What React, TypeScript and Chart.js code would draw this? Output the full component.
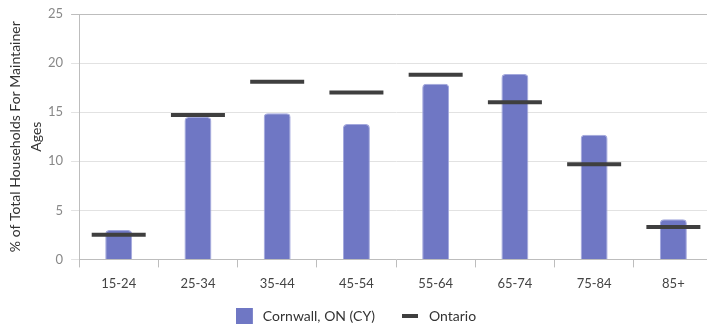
import React, { useEffect, useRef } from "react";
import { Chart, registerables } from "chart.js";

Chart.register(...registerables);

// Age groups of the household maintainer
const ageGroups = ["15-24", "25-34", "35-44", "45-54", "55-64", "65-74", "75-84", "85+"];
// Share of total households (%) — Cornwall, ON (CY)
const cornwallValues = [3.0, 14.5, 14.9, 13.8, 17.9, 18.9, 12.7, 4.1];
// Share of total households (%) — Ontario
const ontarioValues = [2.5, 14.7, 18.1, 17.0, 18.8, 16.0, 9.7, 3.3];
// Y axis
const yTicks = [0, 5, 10, 15, 20, 25];
const yTitle = ["% of Total Households For Maintainer", "Ages"];

const BAR_FILL = "#6f77c4";
const BAR_EDGE = "#a3a8dd";
const ONTARIO = "#3f3f3f";
const FONT = "Lato, 'Open Sans', sans-serif";

// Legend swatch drawn at the left of a fixed-width box
function legendSwatch(boxW: number, w: number, h: number, color: string): HTMLCanvasElement {
  const c = document.createElement("canvas");
  c.width = boxW;
  c.height = h;
  const g = c.getContext("2d")!;
  g.fillStyle = color;
  g.fillRect(0, 0, w, h);
  return c;
}

// Move the legend up closer to the axis labels and a touch left
const legendShift = {
  id: "legendShift",
  afterLayout(chart: any) {
    const lg = chart.legend;
    if (lg) {
      lg.left -= 3;
      lg.right -= 3;
      lg.top -= 19;
      lg.bottom -= 19;
    }
  },
};

export default function App() {
  const canvasRef = useRef<HTMLCanvasElement | null>(null);

  useEffect(() => {
    if (!canvasRef.current) return;
    const square = legendSwatch(20, 17, 16, BAR_FILL);
    const dash = legendSwatch(20, 16, 4, ONTARIO);

    const chart = new Chart(canvasRef.current, {
      type: "bar",
      data: {
        labels: ageGroups,
        datasets: [
          {
            type: "bar",
            label: "Cornwall, ON (CY)",
            data: cornwallValues,
            backgroundColor: BAR_FILL,
            borderColor: BAR_EDGE,
            borderWidth: 1,
            borderRadius: 4,
            barPercentage: 0.34,
            categoryPercentage: 1,
            order: 1,
          },
          {
            type: "line",
            label: "Ontario",
            data: ontarioValues,
            showLine: false,
            pointStyle: "line",
            pointRadius: 27,
            pointHoverRadius: 27,
            pointBorderWidth: 4,
            pointBorderColor: ONTARIO,
            pointBackgroundColor: ONTARIO,
            borderColor: ONTARIO,
            order: 0,
          },
        ],
      },
      plugins: [legendShift],
      options: {
        responsive: false,
        animation: false,
        layout: { autoPadding: false, padding: { top: 14, right: 3, left: 5, bottom: 0 } },
        plugins: {
          tooltip: { enabled: false },
          legend: {
            position: "bottom",
            labels: {
              usePointStyle: true,
              pointStyleWidth: 20,
              padding: 27,
              color: "#333",
              font: { family: FONT, size: 14 },
              sort: (a: any, b: any) => a.datasetIndex - b.datasetIndex,
              generateLabels: (ch: any) => {
                const items = Chart.defaults.plugins.legend.labels.generateLabels(ch);
                return items.map((it: any) => ({
                  ...it,
                  pointStyle: it.datasetIndex === 0 ? square : dash,
                }));
              },
            },
          },
        },
        scales: {
          x: {
            grid: {
              display: true,
              drawOnChartArea: false,
              tickLength: 8,
              color: "#bdbdbd",
            },
            border: { color: "#bdbdbd" },
            ticks: {
              color: "#444",
              font: { family: FONT, size: 13 },
              padding: 9,
            },
          },
          y: {
            min: 0,
            max: 25,
            afterBuildTicks: (axis: any) => {
              axis.ticks = yTicks.map((v) => ({ value: v }));
            },
            afterFit: (scale: any) => {
              scale.width -= 8;
              scale.paddingTop = 0;
            },
            grid: {
              tickLength: 8,
              color: (ctx: any) => (ctx.tick && ctx.tick.value === 25 ? "#bdbdbd" : "#e2e2e2"),
            },
            border: { color: "#bdbdbd" },
            ticks: {
              color: "#888",
              font: { family: FONT, size: 13 },
              padding: 8,
            },
            title: {
              display: true,
              text: yTitle,
              color: "#333",
              font: { family: FONT, size: 14, lineHeight: 1.5 },
              padding: { top: 0, bottom: 1 },
            },
          },
        },
      },
    });
    return () => chart.destroy();
  }, []);

  return (
    <div
      style={{
        position: "fixed",
        left: 0,
        top: 0,
        width: 707,
        height: 326,
        overflow: "hidden",
        background: "#fff",
      }}
    >
      <canvas ref={canvasRef} width={716} height={352} style={{ display: "block" }} />
    </div>
  );
}
